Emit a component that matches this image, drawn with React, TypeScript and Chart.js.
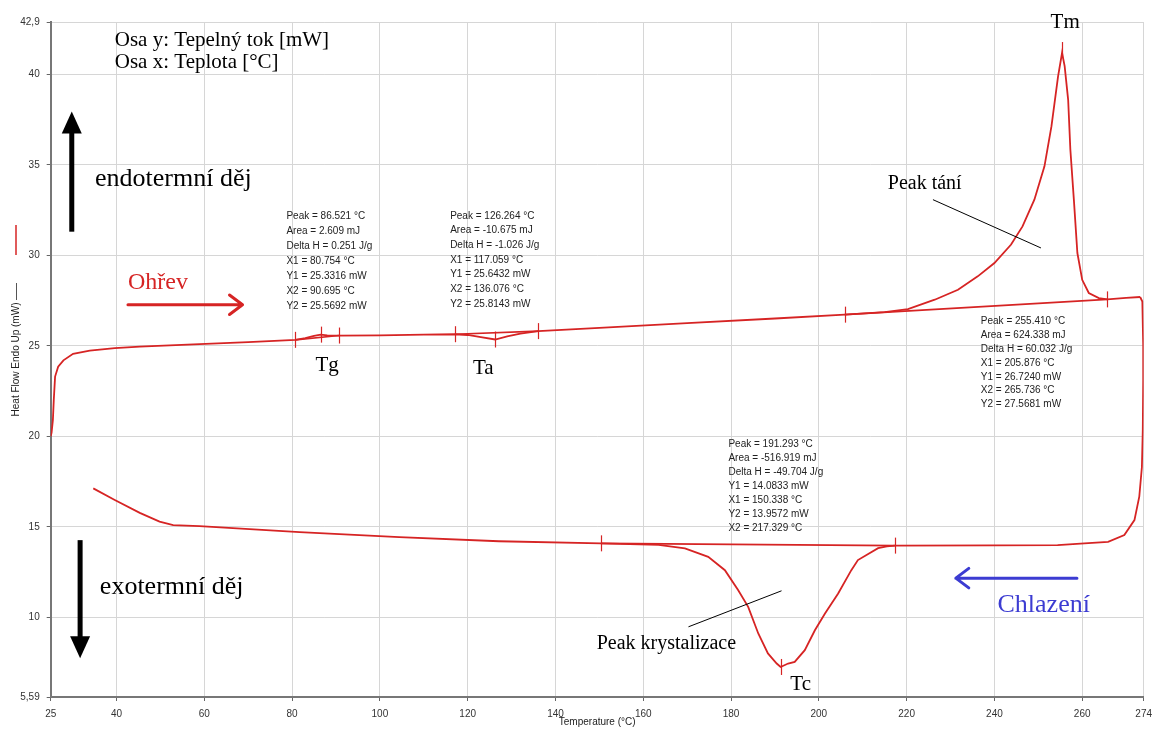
import React, { useEffect, useRef } from "react";
import { Chart, registerables } from "chart.js";

Chart.register(...registerables);

// ---------- data ----------
const xTickValues = [25, 40, 60, 80, 100, 120, 140, 160, 180, 200, 220, 240, 260, 274];
const yTickValues = [5.59, 10, 15, 20, 25, 30, 35, 40, 42.9];

const heatingTemp = [25.0, 25.2, 25.5, 25.7, 26.0, 26.7, 27.9, 30.1, 33.9, 39.6, 45.3, 58.9, 70.0, 80.75, 83.0, 85.0, 86.5, 88.0, 90.7, 100, 110, 117.06, 120, 123, 126.26, 129, 132, 136.08, 150, 170, 190, 205.88, 215, 220.3, 226.4, 231.7, 236.2, 240.0, 243.8, 246.4, 249.1, 251.4, 253.0, 254.5, 255.41, 256.0, 256.8, 257.3, 258.1, 258.9, 260.0, 261.5, 263.8, 265.74, 270.0, 273.2];
const heatingFlow = [20.0, 20.2, 20.9, 22.0, 23.3, 23.85, 24.2, 24.56, 24.74, 24.87, 24.96, 25.1, 25.2, 25.33, 25.42, 25.55, 25.62, 25.58, 25.57, 25.58, 25.62, 25.64, 25.6, 25.48, 25.35, 25.52, 25.68, 25.81, 25.99, 26.25, 26.51, 26.72, 26.86, 27.03, 27.55, 28.1, 28.84, 29.58, 30.6, 31.6, 33.08, 34.92, 37.14, 39.9, 41.2, 40.46, 38.6, 35.85, 33.08, 30.13, 28.65, 27.92, 27.64, 27.57, 27.65, 27.7];

const coolingTemp = [273.2, 273.7, 273.9, 273.9, 273.8, 273.6, 273.0, 271.9, 269.6, 265.9, 260.5, 254.4, 240.0, 217.33, 215.5, 213.5, 208.9, 207.4, 204.4, 201.4, 199.1, 196.8, 194.5, 193.0, 191.29, 190.4, 188.4, 186.2, 183.9, 181.6, 178.6, 174.8, 169.5, 163.5, 150.34, 127.1, 104.4, 81.7, 58.9, 52.9, 49.8, 45.3, 39.6, 34.7];
const coolingFlow = [27.7, 27.45, 25.0, 23.1, 20.35, 18.3, 16.66, 15.37, 14.54, 14.17, 14.08, 13.99, 13.97, 13.96, 13.92, 13.82, 13.16, 12.6, 11.31, 10.2, 9.28, 8.18, 7.53, 7.44, 7.25, 7.44, 8.0, 9.1, 10.57, 11.5, 12.6, 13.34, 13.8, 14.0, 14.08, 14.2, 14.43, 14.7, 15.04, 15.09, 15.28, 15.77, 16.48, 17.12];

// peaks: Tg, Ta, Tm, Tc
const peakNames = ["Tg", "Ta", "Tm", "Tc"];
const peakTemp = [86.521, 126.264, 255.41, 191.293];
const peakFlow = [25.62, 25.35, 41.35, 7.25];
const peakArea = [2.609, -10.675, 624.338, -516.919];
const peakDeltaH = [0.251, -1.026, 60.032, -49.704];
const peakX1 = [80.754, 117.059, 205.876, 150.338];
const peakY1 = [25.3316, 25.6432, 26.724, 14.0833];
const peakX2 = [90.695, 136.076, 265.736, 217.329];
const peakY2 = [25.5692, 25.8143, 27.5681, 13.9572];
// order of the result lines in each box
const resultOrder = [
  ["Peak", "Area", "DeltaH", "X1", "Y1", "X2", "Y2"],
  ["Peak", "Area", "DeltaH", "X1", "Y1", "X2", "Y2"],
  ["Peak", "Area", "DeltaH", "X1", "Y1", "X2", "Y2"],
  ["Peak", "Area", "DeltaH", "Y1", "X1", "Y2", "X2"],
];
// result box anchor (data coords: temperature, heat flow of first line)
const boxTemp = [78.7, 116.0, 236.9, 179.4];
const boxFlow = [32.19, 32.19, 26.34, 19.58];
const boxStep = [15, 14.7, 13.8, 14.05];

// peak name labels
const nameTemp = [85.3, 121.2, 252.8, 193.5];
const nameFlow = [23.89, 23.73, 42.9, 6.29];

// ---------- styles ----------
const RED = "#d62424";
const BLUE = "#3c3cd2";
const GRID = "#d6d6d6";
const SERIF = '"Liberation Serif", "Times New Roman", serif';
const SANS = '"Liberation Sans", Arial, sans-serif';

const fmt = (v: number, d: number) => v.toFixed(d);

function resultLines(i: number): string[] {
  const map: Record<string, string> = {
    Peak: `Peak = ${fmt(peakTemp[i], 3)} °C`,
    Area: `Area = ${fmt(peakArea[i], 3)} mJ`,
    DeltaH: `Delta H = ${fmt(peakDeltaH[i], 3)} J/g`,
    X1: `X1 = ${fmt(peakX1[i], 3)} °C`,
    Y1: `Y1 = ${fmt(peakY1[i], 4)} mW`,
    X2: `X2 = ${fmt(peakX2[i], 3)} °C`,
    Y2: `Y2 = ${fmt(peakY2[i], 4)} mW`,
  };
  return resultOrder[i].map((k) => map[k]);
}

function drawBlockArrow(ctx: CanvasRenderingContext2D, x0: number, y0: number, x1: number, y1: number, shaftW: number, headW: number, headL: number, color: string) {
  const ang = Math.atan2(y1 - y0, x1 - x0);
  const len = Math.hypot(x1 - x0, y1 - y0);
  ctx.save();
  ctx.translate(x0, y0);
  ctx.rotate(ang);
  ctx.fillStyle = color;
  ctx.fillRect(0, -shaftW / 2, len - headL + 1, shaftW);
  ctx.beginPath();
  ctx.moveTo(len, 0);
  ctx.lineTo(len - headL, -headW / 2);
  ctx.lineTo(len - headL, headW / 2);
  ctx.closePath();
  ctx.fill();
  ctx.restore();
}

function drawLineArrow(ctx: CanvasRenderingContext2D, x0: number, y0: number, x1: number, y1: number, w: number, headL: number, color: string) {
  const ang = Math.atan2(y1 - y0, x1 - x0);
  const len = Math.hypot(x1 - x0, y1 - y0);
  ctx.save();
  ctx.translate(x0, y0);
  ctx.rotate(ang);
  ctx.strokeStyle = color;
  ctx.lineWidth = w;
  ctx.lineCap = "round";
  ctx.lineJoin = "round";
  ctx.beginPath();
  ctx.moveTo(0, 0);
  ctx.lineTo(len, 0);
  ctx.moveTo(len - headL, -headL * 0.75);
  ctx.lineTo(len, 0);
  ctx.lineTo(len - headL, headL * 0.75);
  ctx.stroke();
  ctx.restore();
}

const overlayPlugin = {
  id: "dscOverlay",
  afterDatasetsDraw(chart: any) {
    const ctx: CanvasRenderingContext2D = chart.ctx;
    const xs = chart.scales.x;
    const ys = chart.scales.y;
    const px = (v: number) => xs.getPixelForValue(v);
    const py = (v: number) => ys.getPixelForValue(v);
    ctx.save();

    // small vertical tick marks at X1, peak, X2
    ctx.strokeStyle = RED;
    ctx.lineWidth = 1.2;
    const tick = (t: number, f: number) => {
      ctx.beginPath();
      ctx.moveTo(Math.round(px(t)) + 0.5, py(f) - 8);
      ctx.lineTo(Math.round(px(t)) + 0.5, py(f) + 8);
      ctx.stroke();
    };
    for (let i = 0; i < peakTemp.length; i++) {
      tick(peakX1[i], peakY1[i]);
      tick(peakTemp[i], peakFlow[i]);
      tick(peakX2[i], peakY2[i]);
    }

    // result boxes
    ctx.fillStyle = "#222";
    ctx.font = `10px ${SANS}`;
    ctx.textBaseline = "middle";
    ctx.textAlign = "left";
    for (let i = 0; i < peakTemp.length; i++) {
      const lines = resultLines(i);
      const x0 = px(boxTemp[i]);
      const y0 = py(boxFlow[i]);
      lines.forEach((s, k) => ctx.fillText(s, x0, y0 + k * boxStep[i]));
    }

    // peak names
    ctx.fillStyle = "#000";
    ctx.font = `21px ${SERIF}`;
    for (let i = 0; i < peakNames.length; i++) {
      ctx.fillText(peakNames[i], px(nameTemp[i]), py(nameFlow[i]));
    }

    // serif notes
    ctx.font = `21px ${SERIF}`;
    ctx.fillText("Osa y: Tepelný tok [mW]", px(39.6), py(41.88));
    ctx.fillText("Osa x: Teplota [°C]", px(39.6), py(40.66));
    ctx.font = `26px ${SERIF}`;
    ctx.fillText("endotermní děj", px(35.1), py(34.19));
    ctx.fillText("exotermní děj", px(36.2), py(11.66));
    ctx.font = `20px ${SERIF}`;
    ctx.fillText("Peak tání", px(215.7), py(33.97));
    ctx.fillText("Peak krystalizace", px(149.4), py(8.51));
    ctx.font = `24px ${SERIF}`;
    ctx.fillStyle = RED;
    ctx.fillText("Ohřev", px(42.6), py(28.49));
    ctx.font = `26px ${SERIF}`;
    ctx.fillStyle = BLUE;
    ctx.fillText("Chlazení", px(240.7), py(10.67));

    // leader lines
    ctx.strokeStyle = "#000";
    ctx.lineWidth = 1;
    ctx.beginPath();
    ctx.moveTo(px(226.0), py(33.08));
    ctx.lineTo(px(250.6), py(30.41));
    ctx.moveTo(px(170.3), py(9.47));
    ctx.lineTo(px(191.5), py(11.46));
    ctx.stroke();

    // arrows
    drawBlockArrow(ctx, px(29.8), py(31.31), px(29.8), py(37.95), 5, 20, 22, "#000");
    drawBlockArrow(ctx, px(31.7), py(14.26), px(31.7), py(7.73), 5, 20, 22, "#000");
    drawLineArrow(ctx, px(42.6), py(27.27), px(68.7), py(27.27), 3, 13, RED);
    drawLineArrow(ctx, px(258.8), py(12.16), px(231.2), py(12.16), 3, 13, BLUE);

    // y-axis legend marks (red series line + dash)
    const tx = 16;
    ctx.strokeStyle = RED;
    ctx.lineWidth = 1.5;
    ctx.beginPath();
    ctx.moveTo(tx, 225);
    ctx.lineTo(tx, 255);
    ctx.stroke();
    ctx.strokeStyle = "#555";
    ctx.lineWidth = 1;
    ctx.beginPath();
    ctx.moveTo(tx + 0.5, 283);
    ctx.lineTo(tx + 0.5, 300);
    ctx.stroke();

    ctx.restore();
  },
};

function toPoints(xs: number[], ys: number[]) {
  return xs.map((x, i) => ({ x, y: ys[i] }));
}

export default function App() {
  const ref = useRef<HTMLCanvasElement | null>(null);

  useEffect(() => {
    if (!ref.current) return;
    const baselines = peakTemp.map((_, i) => ({
      data: [
        { x: peakX1[i], y: peakY1[i] },
        { x: peakX2[i], y: peakY2[i] },
      ],
      showLine: true,
      borderColor: RED,
      borderWidth: 1.6,
      pointRadius: 0,
    }));
    const chart = new Chart(ref.current, {
      type: "scatter",
      data: {
        datasets: [
          { data: toPoints(heatingTemp, heatingFlow), showLine: true, borderColor: RED, borderWidth: 1.8, pointRadius: 0, tension: 0 },
          { data: toPoints(coolingTemp, coolingFlow), showLine: true, borderColor: RED, borderWidth: 1.8, pointRadius: 0, tension: 0 },
          ...baselines,
        ],
      },
      options: {
        responsive: false,
        animation: false,
        layout: { padding: { left: 0, right: 13, top: 22, bottom: 0 } },
        plugins: { legend: { display: false }, tooltip: { enabled: false } },
        scales: {
          x: {
            type: "linear",
            min: 25,
            max: 274,
            afterBuildTicks: (s: any) => {
              s.ticks = xTickValues.map((v) => ({ value: v }));
            },
            afterFit: (s: any) => {
              s.height = 34;
            },
            ticks: {
              autoSkip: false,
              maxRotation: 0,
              padding: 7,
              color: "#333",
              font: { family: SANS, size: 10 },
              callback: (v: any) => String(v),
            },
            grid: { color: GRID, lineWidth: 1, tickLength: 4, tickColor: "#666" },
            border: { color: "#777", width: 2 },
            title: {
              display: true,
              text: "Temperature (°C)",
              color: "#222",
              font: { family: SANS, size: 10 },
              padding: { top: 0, bottom: 3 },
            },
          },
          y: {
            type: "linear",
            min: 5.59,
            max: 42.9,
            afterBuildTicks: (s: any) => {
              s.ticks = yTickValues.map((v) => ({ value: v }));
            },
            afterFit: (s: any) => {
              s.width = 50.7;
            },
            ticks: {
              autoSkip: false,
              padding: 7,
              color: "#333",
              font: { family: SANS, size: 10 },
              callback: (v: any) => String(v).replace(".", ","),
            },
            grid: { color: GRID, lineWidth: 1, tickLength: 4, tickColor: "#666" },
            border: { color: "#777", width: 2 },
            title: {
              display: true,
              text: "Heat Flow Endo Up (mW)",
              color: "#222",
              font: { family: SANS, size: 10 },
              padding: { top: 10, bottom: 0 },
            },
          },
        },
      },
      plugins: [overlayPlugin],
    } as any);
    return () => chart.destroy();
  }, []);

  return (
    <div style={{ position: "absolute", left: 0, top: 0, width: 1159, height: 731, background: "#fff" }}>
      <canvas ref={ref} width={1159} height={731} style={{ display: "block" }} />
    </div>
  );
}
